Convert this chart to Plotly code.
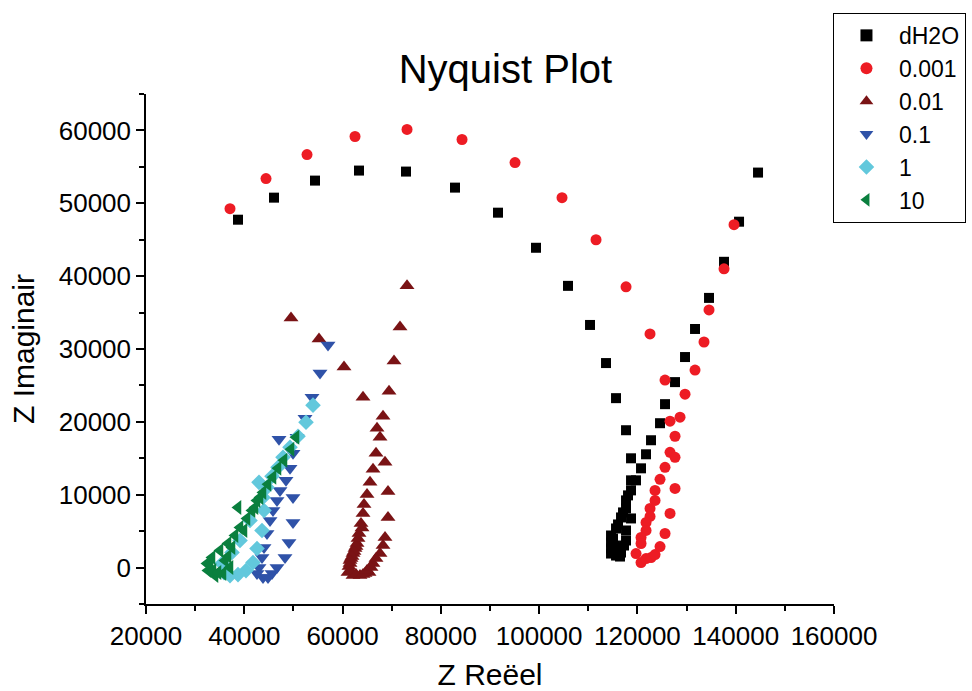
import plotly.graph_objects as go

# ---- data ----
dh2o_x = [38722, 46048, 54392, 63346, 72910, 82882, 91632, 99365, 105877, 110354,
          113610, 115645, 117680, 118698, 118698, 118698, 117680, 117680, 116663, 115645,
          114628, 114628, 114628, 114628, 115645, 116663, 116663, 117680, 117680, 118698,
          119715, 120733, 121750, 122768, 124599, 125617, 127652, 129687, 131722, 134571,
          137623, 140676, 144542,
          115238, 115035, 116052, 117070, 118087, 115645, 116460, 117273]
dh2o_y = [47747, 50774, 53114, 54490, 54352, 52150, 48710, 43894, 38666, 33299,
          28070, 23254, 18851, 14998, 11971, 10595, 9219, 8118, 6880, 5366,
          4403, 3440, 2614, 1926, 1651, 2064, 2752, 3715, 5091, 6742,
          11971, 13622, 15549, 17475, 19814, 22429, 25456, 28896, 32749, 37014,
          41968, 47472, 54214,
          3027, 3990, 5917, 7568, 9907, 2339, 1514, 3027]

c0001_x = [37094, 44420, 52764, 62532, 73114, 84306, 95092, 104656, 111575, 117680,
           122564, 125617, 126634, 127652, 126634, 125617, 124599, 123582, 123582, 122564,
           122564, 121750, 121750, 120733, 120733, 119715, 120733, 121750, 122768, 123582,
           124599, 125617, 126634, 127652, 127652, 128669, 129687, 131722, 133553, 134571,
           137623, 139658]
c0001_y = [49261, 53389, 56691, 59168, 60131, 58755, 55590, 50774, 44995, 38528,
           32061, 25731, 20090, 18026, 15824, 13760, 12109, 10595, 9219, 8118,
           7018, 6192, 5091, 4128, 3302, 1926, 688, 1238, 1376, 1789,
           2890, 4678, 7430, 10870, 15136, 20640, 23805, 27107, 30960, 35363,
           41005, 47059]

c001_x = [49508, 55206, 60293, 64160, 67009, 67619, 66805, 66195, 65584, 64974,
          64363, 64160, 63753, 63346, 62939, 62532, 62125, 61718, 61514, 61107,
          62125, 63549, 64567, 65381, 66195, 67619, 68637, 69247, 69247, 68637,
          68230, 69451, 70468, 71689, 73114,
          63957, 63142, 62736, 62329, 61921, 61514, 61311, 61718, 62736, 64160,
          64974, 65788, 66805, 68230]
c001_y = [34262, 31373, 27520, 23392, 19126, 17888, 15686, 13485, 11696, 10045,
          8669, 7430, 6054, 4678, 3302, 2614, 1926, 1238, 550, -688,
          -1101, -1101, -826, -688, 550, 1926, 4128, 6880, 10458, 14448,
          20778, 24218, 28346, 33024, 38666,
          5435, 3990, 2890, 2202, 1514, 963, 138, -550, -963, -963,
          -413, 0, 1238, 3027]

c01_x = [57037, 55409, 53781, 52357, 50729, 47066, 49915, 49304, 48490, 47269,
         49915, 46659, 45845, 45234, 49915, 44624, 49101, 44013, 43606, 48287,
         42996, 46659, 42589, 43810, 45641, 44827]
c01_y = [30547, 26694, 23392, 20502, 17888, 17613, 15686, 13622, 11971, 10595,
         9632, 9219, 7843, 6467, 6192, 4678, 3440, 2752, 1376, 1376,
         0, 0, -826, -1376, -826, -1376]

c1_x = [53985, 52560, 50932, 49304, 47880, 46862, 45641, 44624, 42996, 43810,
        44013, 41164, 43606, 39129, 42589, 37501, 41775, 40350, 38722, 37094,
        35873, 35466]
c1_y = [22291, 19952, 18026, 16512, 15136, 13760, 12522, 11008, 11696, 9632,
        7843, 6467, 5091, 3715, 2614, 2064, 688, -413, -963, -1101,
        -688, 550]

c10_x = [50525, 49508, 48083, 46862, 45845, 44827, 43810, 42589, 41571, 38722,
         40554, 39129, 38112, 36687, 35059, 33431, 32414, 32617, 34042, 35670,
         37094, 36687,
         33024, 33634, 34652, 36077, 37501, 39942, 42182, 43199]
c10_y = [17888, 16237, 14723, 13622, 12384, 11421, 10320, 9219, 7843, 8256,
         6742, 5504, 4403, 3302, 2339, 1376, 550, -413, -1101, -826,
         0, 1514,
         275, -413, -688, 963, 2752, 5091, 8256, 9632]

names = ["dH2O", "0.001", "0.01", "0.1", "1", "10"]
colors = ["#000000", "#ED1C24", "#7A1315", "#2F52A8", "#62C8DC", "#0A7F3E"]
symbols = ["square", "circle", "triangle-up", "triangle-down", "diamond", "triangle-left"]
sizes = [10, 11, 13, 13, 12, 13]
xs = [dh2o_x, c0001_x, c001_x, c01_x, c1_x, c10_x]
ys = [dh2o_y, c0001_y, c001_y, c01_y, c1_y, c10_y]

FONT = "Liberation Sans, Arial, sans-serif"

fig = go.Figure()
for n, c, s, sz, x, y in zip(names, colors, symbols, sizes, xs, ys):
    fig.add_trace(go.Scatter(x=x, y=y, mode="markers", name=n,
                             marker=dict(color=c, symbol=s, size=sz, line=dict(width=0))))

axis_common = dict(showgrid=False, zeroline=False, showline=True, linecolor="black",
                   linewidth=1.5, ticks="outside", ticklen=8, tickwidth=1.5,
                   tickcolor="black", tickformat="d", automargin=False,
                   tickfont=dict(family=FONT, size=26, color="black"),
                   mirror=False)

fig.update_layout(
    width=972, height=691,
    margin=dict(l=146, r=138, t=94, b=87, autoexpand=False),
    paper_bgcolor="white", plot_bgcolor="white",
    font=dict(family=FONT, color="black"),
    title=dict(text="Nyquist Plot", x=0.52, xref="container", xanchor="center",
               y=0.9, yref="container", yanchor="middle",
               font=dict(family=FONT, size=40, color="black")),
    xaxis=dict(range=[20000, 160000], tick0=20000, dtick=20000,
               title=dict(text="Z Reëel", font=dict(family=FONT, size=30)),
               minor=dict(dtick=10000, ticks="outside", ticklen=5, tickwidth=1.5,
                          tickcolor="black", showgrid=False),
               **axis_common),
    yaxis=dict(range=[-5000, 65000], tick0=0, dtick=10000,
               title=dict(text="Z Imaginair", font=dict(family=FONT, size=30)),
               minor=dict(dtick=5000, ticks="outside", ticklen=5, tickwidth=1.5,
                          tickcolor="black", showgrid=False),
               **axis_common),
    legend=dict(x=0.9985, y=1.159, xanchor="left", yanchor="top",
                bordercolor="black", borderwidth=1, bgcolor="white",
                font=dict(family=FONT, size=23, color="black"),
                itemsizing="constant", tracegroupgap=0, itemwidth=55),
    showlegend=True,
)

fig.write_html("out.html")
